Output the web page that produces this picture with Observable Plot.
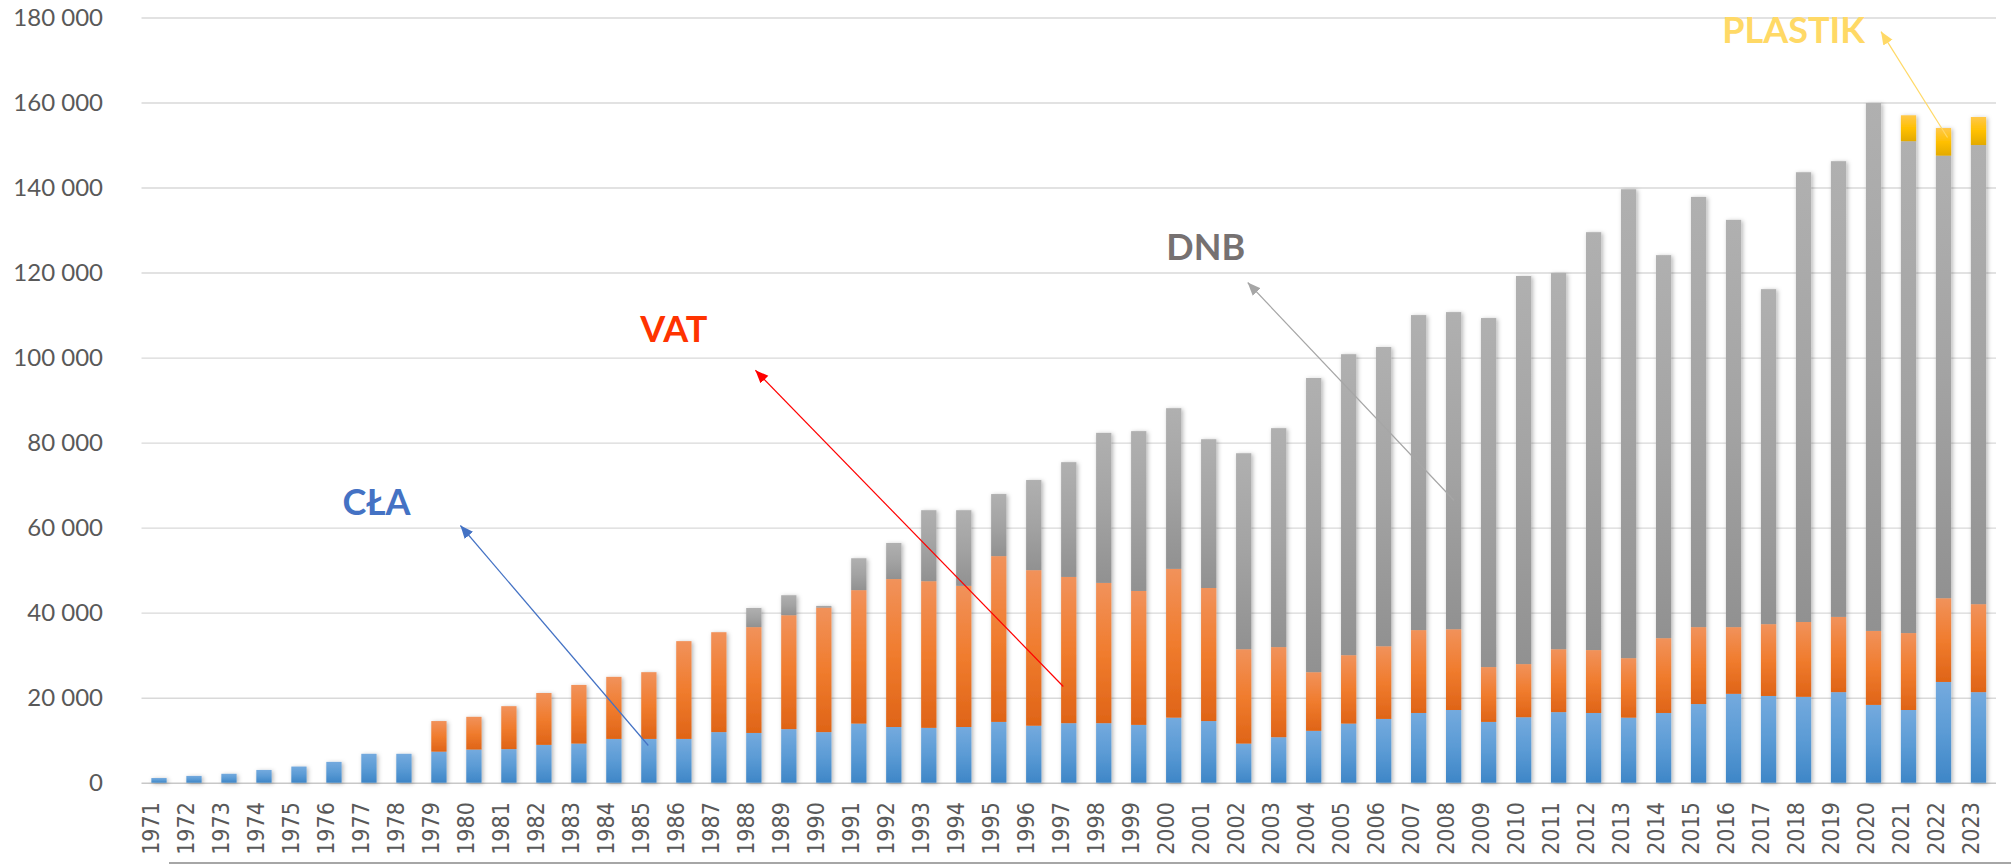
<!DOCTYPE html>
<html><head><meta charset="utf-8">
<script src="https://cdn.jsdelivr.net/npm/d3@7"></script>
<script src="https://cdn.jsdelivr.net/npm/@observablehq/plot@0.6"></script>
<style>
html,body{margin:0;padding:0;background:#fff;}
#chart svg{display:block;}
#baseline{margin-left:169px;height:2px;background:#a6a6a6;}
</style></head><body>
<div id="chart"></div>
<div id="baseline"></div>
<script>
// Categories
const years = d3.range(1971, 2024);
const seriesNames = ["CŁA", "VAT", "DNB", "PLASTIK"];
// Series values
const cla = [1100,1600,2100,3000,3800,4900,6800,6800,7300,7800,
  7900,8900,9200,10300,10300,10300,11900,11700,12600,11900,
  13900,13100,12900,13100,14300,13400,14000,14000,13600,15300,
  14500,9200,10700,12200,13900,15000,16400,17100,14300,15400,
  16600,16400,15300,16400,18500,20900,20400,20200,21300,18300,
  17100,23700,21300];
const vat = [0,0,0,0,0,0,0,0,7200,7700,
  10100,12200,13800,14600,15700,23000,23500,24900,26800,29300,
  31400,34800,34500,33200,39000,36600,34400,33000,31500,35000,
  31300,22200,21200,13800,16100,17100,19500,19000,12900,12500,
  14800,14800,14000,17600,18100,15700,16900,17600,17700,17400,
  18100,19700,20700];
const dnb = [0,0,0,0,0,0,0,0,0,0,
  0,0,0,0,0,0,0,4500,4700,400,
  7500,8500,16700,17800,14600,21200,27000,35300,37600,37800,
  35000,46100,51500,69200,70800,70400,74100,74600,82100,91300,
  88500,98300,110300,90100,101200,95800,78800,105800,107200,124200,
  115700,104100,108000];
const plastik = [0,0,0,0,0,0,0,0,0,0,
  0,0,0,0,0,0,0,0,0,0,
  0,0,0,0,0,0,0,0,0,0,
  0,0,0,0,0,0,0,0,0,0,
  0,0,0,0,0,0,0,0,0,0,
  6100,6500,6600];
// Tick labels
const yTicks = [0,20000,40000,60000,80000,100000,120000,140000,160000,180000];
// Annotations (data coordinates)
const labelText = ["CŁA", "VAT", "DNB", "PLASTIK"];
const labelX = [1977.2, 1985.7, 2000.9, 2017.7];
const labelY = [65800, 106400, 125800, 176900];
const labelColor = ["#4472c4", "#ff3300", "#767171", "#ffd966"];
const arrowFromX = [1984.97, 1996.83, 2008.0, 2022.1];
const arrowFromY = [8870, 22750, 66500, 151900];
const arrowToX = [1979.6, 1988.03, 2002.1, 2020.2];
const arrowToY = [60620, 97130, 117780, 176800];
const arrowColor = ["#4472c4", "#ff0000", "#a6a6a6", "#ffd966"];

const seriesValues = [cla, vat, dnb, plastik];
const rows = [];
years.forEach((yr, i) => {
  seriesNames.forEach((s, k) => {
    const v = seriesValues[k][i];
    if (v > 0) rows.push({year: yr, series: s, value: v});
  });
});

const fmt = d => d3.format(",")(d).replace(/,/g, " ");

const marks = [
  Plot.ruleY(yTicks.filter(d => d > 0), {y: d => d, stroke: "#d9d9d9", strokeWidth: 1.4}),
  Plot.ruleY([0], {stroke: "#c8c8c8", strokeWidth: 1.6}),
  Plot.rectY(rows, {x1: d => d.year - 0.5, x2: d => d.year + 0.5, y: "value", fill: "series", insetLeft: 9.85, insetRight: 9.85}),
  Plot.text(yTicks, {y: d => d, frameAnchor: "left", dx: -39, textAnchor: "end", text: fmt,
    fontFamily: "Lato", fontSize: 24, fill: "#595959"}),
  Plot.text(years, {x: d => d, frameAnchor: "bottom", dy: 19, rotate: -90, textAnchor: "end", text: d => String(d),
    fontFamily: "'DejaVu Sans Condensed', 'DejaVu Sans'", fontSize: 23, fill: "#595959"})
];
labelText.forEach((t, i) => {
  marks.push(Plot.link([i], {x1: arrowFromX[i], y1: arrowFromY[i], x2: arrowToX[i], y2: arrowToY[i],
    stroke: arrowColor[i], strokeWidth: 1.2, markerEnd: "arrow"}));
  marks.push(Plot.text([i], {x: labelX[i], y: labelY[i], text: () => t, fill: labelColor[i],
    fontFamily: "Lato", fontWeight: "bold", fontSize: 36}));
});

const svg = Plot.plot({
  width: 2011, height: 862,
  marginTop: 17.5, marginBottom: 79.3, marginLeft: 141.5, marginRight: 15,
  style: {background: "#fff", overflow: "visible"},
  x: {type: "linear", domain: [1970.5, 2023.5], axis: null},
  y: {domain: [0, 180000], axis: null},
  color: {domain: seriesNames, range: ["url(#gCla)", "url(#gVat)", "url(#gDnb)", "url(#gPl)"]},
  marks
});

// gradients & shadow (Excel-like styling)
const defs = d3.select(svg).insert("defs", ":first-child");
const grads = [
  ["gCla", [["0%", "#74aade"], ["50%", "#5b9bd5"], ["100%", "#3e86c7"]]],
  ["gVat", [["0%", "#f1925b"], ["50%", "#f07c2e"], ["100%", "#df6417"]]],
  ["gDnb", [["0%", "#b0b0b0"], ["50%", "#a3a3a3"], ["100%", "#919191"]]],
  ["gPl", [["0%", "#ffc84a"], ["50%", "#ffc000"], ["100%", "#e3aa00"]]]
];
grads.forEach(([id, stops]) => {
  const g = defs.append("linearGradient").attr("id", id).attr("x1", 0).attr("y1", 0).attr("x2", 0).attr("y2", 1);
  stops.forEach(([o, c]) => g.append("stop").attr("offset", o).attr("stop-color", c));
});
const f = defs.append("filter").attr("id", "shadow").attr("x", "-5%").attr("y", "-5%").attr("width", "110%").attr("height", "110%");
f.append("feDropShadow").attr("dx", 1.5).attr("dy", 1).attr("stdDeviation", 2).attr("flood-color", "#000").attr("flood-opacity", 0.3);
d3.select(svg).selectAll('g[aria-label="rect"]').attr("filter", "url(#shadow)");

// filled triangular arrowheads
svg.querySelectorAll("marker").forEach(m => {
  const c = m.getAttribute("stroke");
  m.setAttribute("viewBox", "-12 -6 12 12");
  m.setAttribute("markerWidth", 13);
  m.setAttribute("markerHeight", 13);
  m.setAttribute("markerUnits", "userSpaceOnUse");
  m.setAttribute("fill", c);
  m.setAttribute("stroke", "none");
  const p = m.querySelector("path");
  if (p) p.setAttribute("d", "M-12,-5L0,0L-12,5Z");
});

document.getElementById("chart").appendChild(svg);
</script>
</body></html>
